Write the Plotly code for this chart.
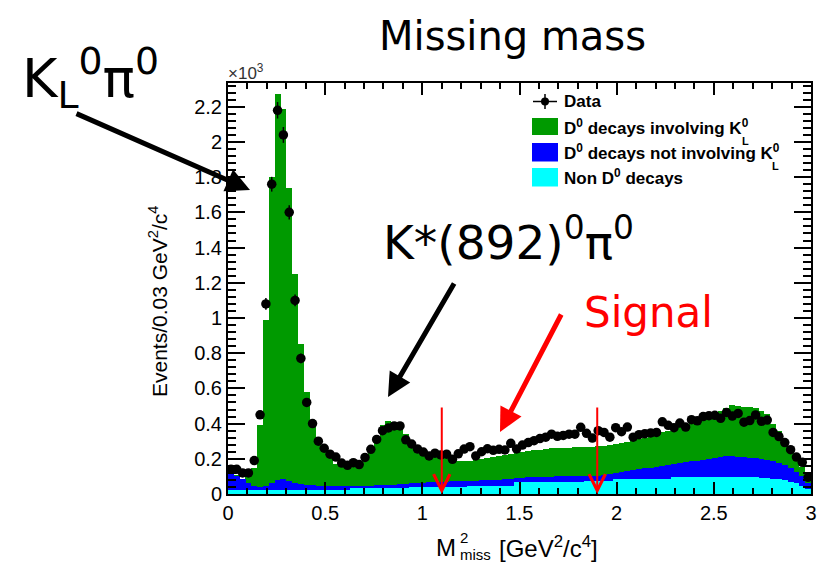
import numpy as np
import plotly.graph_objects as go

# ---------------- data (units of 10^3 events / 0.03 GeV^2/c^4) ----------------
bin_width = 0.03
n_bins = 100
bin_centers = np.arange(n_bins) * bin_width + bin_width / 2

data_vals = [0.14, 0.14, 0.12, 0.12, 0.19, 0.45, 1.08, 1.76, 2.18, 2.04,
             1.60, 1.10, 0.77, 0.52, 0.40, 0.30, 0.26, 0.226, 0.21, 0.176,
             0.163, 0.178, 0.167, 0.208, 0.254, 0.31, 0.36, 0.375, 0.387, 0.387,
             0.308, 0.284, 0.256, 0.238, 0.216, 0.232, 0.222, 0.226, 0.197, 0.228,
             0.255, 0.269, 0.216, 0.24, 0.257, 0.248, 0.254, 0.25, 0.288, 0.256,
             0.278, 0.292, 0.303, 0.315, 0.323, 0.34, 0.328, 0.333, 0.34, 0.34,
             0.379, 0.345, 0.318, 0.36, 0.35, 0.323, 0.377, 0.354, 0.38, 0.323,
             0.337, 0.343, 0.347, 0.35, 0.41, 0.39, 0.377, 0.403, 0.38, 0.422,
             0.416, 0.44, 0.445, 0.447, 0.43, 0.463, 0.443, 0.458, 0.408, 0.417,
             0.449, 0.413, 0.42, 0.35, 0.326, 0.292, 0.252, 0.21, 0.18, 0.095]

# cumulative stack tops as drawn (THStack style)
stack_kl = [0.12, 0.11, 0.085, 0.105, 0.145, 0.394, 0.99, 1.80, 2.27, 2.19,
            1.74, 1.25, 0.85, 0.58, 0.42, 0.32, 0.26, 0.21, 0.17, 0.16,
            0.155, 0.155, 0.16, 0.19, 0.25, 0.32, 0.39, 0.415, 0.41, 0.38,
            0.34, 0.30, 0.27, 0.25, 0.235, 0.225, 0.215, 0.205, 0.20, 0.19,
            0.185, 0.19, 0.195, 0.20, 0.205, 0.21, 0.215, 0.22, 0.23, 0.235,
            0.24, 0.245, 0.25, 0.25, 0.255, 0.26, 0.26, 0.26, 0.262, 0.265,
            0.265, 0.268, 0.265, 0.27, 0.275, 0.28, 0.285, 0.29, 0.295, 0.30,
            0.31, 0.32, 0.33, 0.34, 0.35, 0.36, 0.37, 0.38, 0.40, 0.42,
            0.44, 0.445, 0.455, 0.46, 0.47, 0.49, 0.505, 0.50, 0.495, 0.495,
            0.49, 0.47, 0.455, 0.40, 0.36, 0.31, 0.255, 0.20, 0.155, 0.08]

stack_notkl = [0.118, 0.10, 0.085, 0.06, 0.045, 0.04, 0.045, 0.06, 0.08, 0.085,
               0.075, 0.065, 0.055, 0.05, 0.05, 0.045, 0.045, 0.045, 0.045, 0.045,
               0.045, 0.045, 0.045, 0.045, 0.048, 0.05, 0.05, 0.05, 0.052, 0.055,
               0.058, 0.06, 0.062, 0.065, 0.068, 0.07, 0.07, 0.07, 0.072, 0.072,
               0.074, 0.075, 0.076, 0.078, 0.08, 0.08, 0.082, 0.084, 0.086, 0.09,
               0.092, 0.094, 0.095, 0.096, 0.097, 0.098, 0.10, 0.10, 0.10, 0.10,
               0.10, 0.10, 0.102, 0.105, 0.11, 0.115, 0.12, 0.125, 0.13, 0.135,
               0.14, 0.145, 0.15, 0.155, 0.16, 0.165, 0.17, 0.175, 0.18, 0.185,
               0.19, 0.195, 0.20, 0.205, 0.21, 0.215, 0.215, 0.212, 0.21, 0.207,
               0.205, 0.20, 0.195, 0.185, 0.175, 0.163, 0.145, 0.125, 0.10, 0.06]

stack_nond0 = [0.02, 0.02, 0.02, 0.02, 0.02, 0.02, 0.02, 0.02, 0.02, 0.02,
               0.02, 0.025, 0.025, 0.025, 0.025, 0.025, 0.025, 0.025, 0.025, 0.025,
               0.025, 0.032, 0.032, 0.032, 0.032, 0.032, 0.032, 0.032, 0.032, 0.032,
               0.032, 0.04, 0.04, 0.04, 0.04, 0.04, 0.04, 0.04, 0.04, 0.04,
               0.04, 0.045, 0.045, 0.045, 0.045, 0.045, 0.045, 0.045, 0.045, 0.07,
               0.07, 0.07, 0.07, 0.07, 0.07, 0.07, 0.07, 0.07, 0.07, 0.07,
               0.07, 0.075, 0.075, 0.075, 0.075, 0.075, 0.085, 0.085, 0.085, 0.085,
               0.085, 0.085, 0.085, 0.085, 0.085, 0.085, 0.095, 0.095, 0.095, 0.095,
               0.095, 0.095, 0.095, 0.095, 0.095, 0.095, 0.095, 0.095, 0.095, 0.095,
               0.095, 0.092, 0.09, 0.087, 0.083, 0.078, 0.07, 0.06, 0.048, 0.03]

data_err = np.sqrt(np.array(data_vals) * 1000.0) / 1000.0  # Poisson errors

signal_window = [1.1, 1.9]
cut_top = 0.5

legend_labels = ["Data", "D<sup>0</sup> decays involving K<sup>0</sup>",
                 "D<sup>0</sup> decays not involving K<sup>0</sup>", "Non D<sup>0</sup> decays"]

GREEN, BLUE, CYAN = "#009a00", "#0000ff", "#00ffff"

# ---------------- figure ----------------
W, H = 817, 564
ML, MR, MT, MB = 228, 6, 83, 70
PW, PH = W - ML - MR, H - MT - MB


def px(x):
    return (x - ML) / PW


def py(y):
    return (H - MB - y) / PH


fig = go.Figure()
for vals, col in [(stack_kl, GREEN), (stack_notkl, BLUE), (stack_nond0, CYAN)]:
    fig.add_trace(go.Bar(x=bin_centers, y=vals, width=bin_width * 1.02,
                         marker=dict(color=col, line=dict(width=0)),
                         showlegend=False, hoverinfo="skip"))

fig.add_trace(go.Scatter(x=bin_centers, y=data_vals, mode="markers",
                         marker=dict(color="black", size=9.5),
                         error_y=dict(type="data", array=data_err, color="black",
                                      thickness=1.5, width=0),
                         showlegend=False))

tickfont = dict(family="Liberation Sans, Arial, sans-serif", size=20, color="black")
fig.update_layout(
    width=W, height=H, template="none",
    paper_bgcolor="white", plot_bgcolor="white",
    margin=dict(l=ML, r=MR, t=MT, b=MB, pad=0),
    barmode="overlay", bargap=0, showlegend=False,
    xaxis=dict(range=[0, 3], tickmode="linear", tick0=0, dtick=0.5,
               ticks="inside", ticklen=12, tickwidth=1.5, tickcolor="black",
               showline=True, linecolor="black", linewidth=2, mirror="ticks",
               showgrid=False, zeroline=False, tickfont=tickfont, automargin=False,
               minor=dict(dtick=0.1, ticks="inside", ticklen=6, tickwidth=1.5,
                          tickcolor="black", showgrid=False)),
    yaxis=dict(range=[0, 2.335], tickmode="linear", tick0=0, dtick=0.2,
               ticks="inside", ticklen=17, tickwidth=1.5, tickcolor="black",
               showline=True, linecolor="black", linewidth=2, mirror="ticks",
               showgrid=False, zeroline=False, tickfont=tickfont, automargin=False,
               minor=dict(dtick=0.04, ticks="inside", ticklen=8, tickwidth=1.5,
                          tickcolor="black", showgrid=False)),
)

ann = []
sans = "Liberation Sans, Arial, sans-serif"
big = "DejaVu Sans, sans-serif"


def text(xp, yp, s, size, color="black", family=sans, xanchor="center", angle=0):
    ann.append(dict(x=px(xp), y=py(yp), xref="paper", yref="paper", text=s,
                    showarrow=False, xanchor=xanchor, yanchor="middle", textangle=angle,
                    font=dict(family=family, size=size, color=color)))


# axis titles
text(158, 302, "Events/0.03 GeV<sup>2</sup>/c<sup>4</sup>", 21, angle=-90)
text(458, 547, "M", 24, xanchor="right")
text(458, 537, "2", 15, xanchor="left")
text(458, 554, "miss", 15, xanchor="left")
text(497, 547, "[GeV<sup>2</sup>/c<sup>4</sup>]", 24, xanchor="left")
text(226, 72, "\u00d710<sup>3</sup>", 17, color="#333333", xanchor="left")

# big labels
text(512, 36, "Missing mass", 40, family=big)
text(20, 78, "K<sub>L</sub><sup>0</sup>\u03c0<sup>0</sup>", 54, family=big, xanchor="left")
text(381, 239, "K*(892)<sup>0</sup>\u03c0<sup>0</sup>", 47, family=big, xanchor="left")
text(582, 312, "Signal", 42, color="red", family=big, xanchor="left")

# arrows (head, tail)
for (hx, hy), (tx, ty), col in [((250, 190), (75, 113), "black"),
                                ((388, 397), (455, 282), "black"),
                                ((500, 432), (562, 313), "red")]:
    ann.append(dict(x=px(hx), y=py(hy), xref="paper", yref="paper",
                    ax=tx - hx, ay=ty - hy, text="", showarrow=True,
                    arrowhead=2, arrowsize=0.95, arrowwidth=5, arrowcolor=col))

# signal window cut lines
for xc in signal_window:
    ann.append(dict(x=xc, y=0, xref="x", yref="y", ax=xc, ay=cut_top,
                    axref="x", ayref="y", text="", showarrow=True,
                    arrowhead=5, arrowsize=1.6, arrowwidth=2, arrowcolor="red"))

# legend (manual, ROOT style)
shapes = []
shapes.append(dict(type="line", xref="paper", yref="paper", x0=px(533), x1=px(557),
                   y0=py(101.5), y1=py(101.5), line=dict(color="black", width=1.5)))
shapes.append(dict(type="line", xref="paper", yref="paper", x0=px(545), x1=px(545),
                   y0=py(94), y1=py(109), line=dict(color="black", width=1.5)))
shapes.append(dict(type="circle", xref="paper", yref="paper", x0=px(541), x1=px(549),
                   y0=py(97.5), y1=py(105.5), fillcolor="black", line=dict(color="black", width=0)))
for (y0, y1), col in [((118, 135), GREEN), ((143, 161.5), BLUE), ((168, 186.5), CYAN)]:
    shapes.append(dict(type="rect", xref="paper", yref="paper", x0=px(532), x1=px(558),
                       y0=py(y1), y1=py(y0), fillcolor=col, line=dict(width=0)))

for lab, yy in zip(legend_labels, [101.5, 127, 152, 177]):
    text(562, yy, "<b>" + lab + "</b>", 17, xanchor="left")
for xx, yy in [(740, 141), (770, 166)]:
    text(xx, yy, "<b>L</b>", 11, xanchor="left")

fig.update_layout(annotations=ann, shapes=shapes)
fig.write_html("out.html")
